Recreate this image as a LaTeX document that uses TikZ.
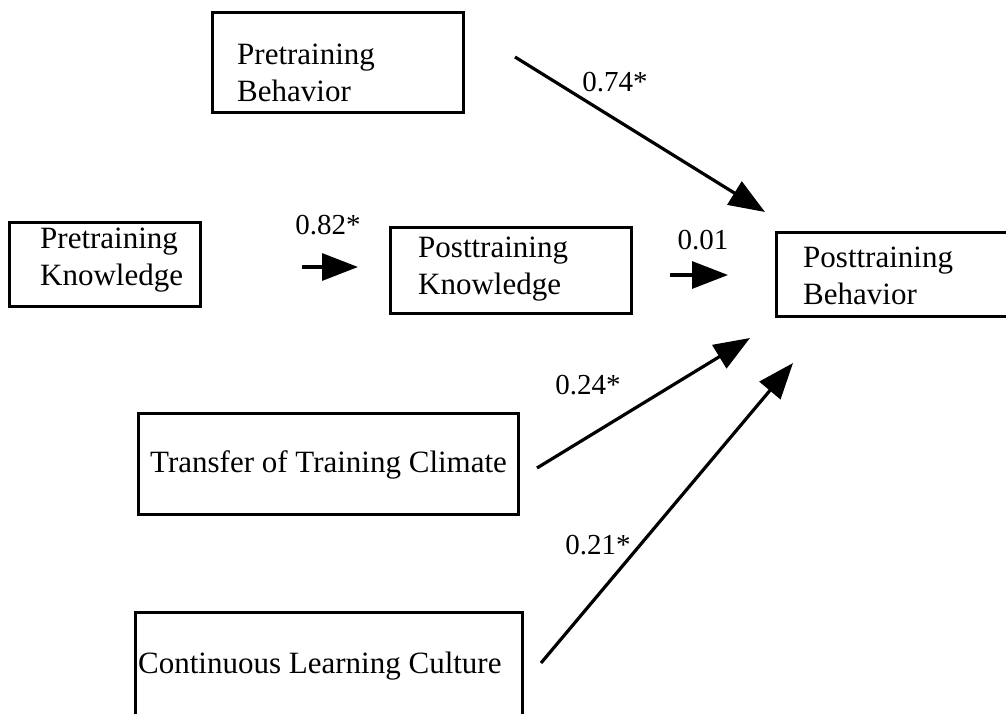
\documentclass[tikz,border=0pt]{standalone}
\usepackage{fontspec}
\setmainfont{Liberation Serif}
\usetikzlibrary{arrows.meta}
\begin{document}
\begin{tikzpicture}[x=1pt,y=-1pt,
  box/.style={draw, line width=3pt, inner sep=0pt},
  txt/.style={inner sep=0pt, anchor=west, align=left, font=\fontsize{31}{37}\selectfont},
  lbl/.style={inner sep=0pt, font=\fontsize{29}{34}\selectfont},
  arr/.style={line width=3.2pt, -{Triangle[length=36pt,width=27pt]}}]
\useasboundingbox (0,0) rectangle (1006,714);
% boxes
\node[box, minimum width=251pt, minimum height=100pt] (pbbox) at (337.5,63) {};
\node[box, minimum width=191pt, minimum height=84pt] (pkbox) at (104.5,264) {};
\node[box, minimum width=241pt, minimum height=86pt] (pokbox) at (510.5,270) {};
\node[box, minimum width=244pt, minimum height=84pt] (pobbox) at (898,274) {};
\node[box, minimum width=380pt, minimum height=101pt] (ttcbox) at (328,463.5) {};
\node[box, minimum width=387pt, minimum height=108pt] (clcbox) at (328.5,666) {};
% texts
\node[txt] (pbtxt) at (237,73) {Pretraining\\Behavior};
\node[txt] (pktxt) at (40,260) {Pretraining\\Knowledge};
\node[txt] (poktxt) at (418,269) {Posttraining\\Knowledge};
\node[txt] (pobtxt) at (803,276) {Posttraining\\Behavior};
\node[txt] (ttctxt) at (150,465) {Transfer of Training Climate};
\node[txt] (clctxt) at (138,666) {Continuous Learning Culture};
% arrow end points
\coordinate (s82) at (302,267); \coordinate (e82) at (358,267);
\coordinate (s01) at (670,275); \coordinate (e01) at (728,275);
\coordinate (s74) at (515,57);  \coordinate (e74) at (765,212);
\coordinate (s24) at (537,468); \coordinate (e24) at (750,338);
\coordinate (s21) at (541,663); \coordinate (e21) at (793,363);
\draw[arr] (s82) -- (e82);
\draw[arr] (s01) -- (e01);
\draw[arr] (s74) -- (e74);
\draw[arr] (s24) -- (e24);
\draw[arr] (s21) -- (e21);
% labels
\node[lbl] (l82) at (328,225) {0.82*};
\node[lbl] (l01) at (703,240) {0.01};
\node[lbl] (l74) at (615,82) {0.74*};
\node[lbl] (l24) at (588,385) {0.24*};
\node[lbl] (l21) at (598,545) {0.21*};
\end{tikzpicture}
\end{document}
